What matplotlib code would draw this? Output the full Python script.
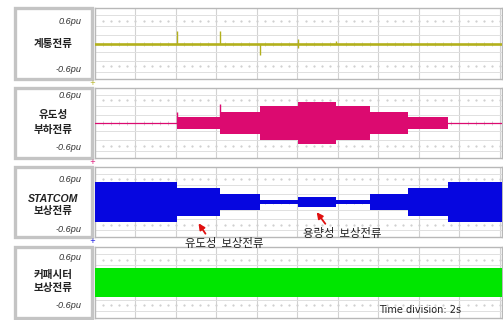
import matplotlib
matplotlib.use("Agg")
import matplotlib.pyplot as plt
from matplotlib.patches import Rectangle, FancyArrowPatch
import numpy as np

W, H = 503, 320

# ---- data (per-unit values, time in seconds) ----
seg_edges = [0.0, 4.05, 6.17, 8.15, 10.02, 11.9, 13.58, 15.46, 17.43, 20.1]
load_amp = [0.0, 0.15, 0.29, 0.45, 0.57, 0.45, 0.29, 0.15, 0.0]          # 유도성 부하전류 envelope
statcom_amp = [0.52, 0.365, 0.21, 0.055, 0.13, 0.055, 0.21, 0.365, 0.52]  # STATCOM 보상전류 envelope
cap_amp = [0.38]                                                            # 커패시터 보상전류 envelope
cap_edges = [0.0, 20.1]
grid_spike_t = [4.05, 6.17, 8.15, 10.02, 10.02, 11.9]
grid_spike_v = [0.33, 0.33, -0.31, 0.11, -0.11, 0.06]
load_spike_t = [4.05, 6.17]
load_spike_v = [0.30, 0.51]

panel_names = ["계통전류", "유도성\n부하전류", "STATCOM\n보상전류", "커패시터\n보상전류"]
scale_top, scale_bot = "0.6pu", "-0.6pu"
note_ind = "유도성  보상전류"
note_cap = "용량성  보상전류"
time_note = "Time division: 2s"

colors = ["#b3b01c", "#dc0a70", "#0606e0", "#00e600"]

# panel extents in pixels (top, bottom)
panels = [(8, 79), (88, 158), (167, 237), (247, 318)]
PX0, PX1 = 95, 502
YL = 0.93

fig = plt.figure(figsize=(W / 100, H / 100), dpi=100)
fig.patch.set_facecolor("white")

def fx(x):
    return x / W

def fy(y):
    return 1 - y / H

ko = ["Noto Sans CJK KR", "DejaVu Sans"]
lab_font = ["Liberation Sans", "Noto Sans CJK KR"]

axes = []
for i, (top, bot) in enumerate(panels):
    ax = fig.add_axes([fx(PX0), fy(bot), fx(PX1) - fx(PX0), (bot - top) / H])
    ax.set_xlim(0, 20.1)
    ax.set_ylim(-YL, YL)
    ax.set_xticks([])
    ax.set_yticks([])
    for s in ax.spines.values():
        s.set_color("#b8b8b8")
        s.set_linewidth(1.0)
    # grid
    for t in np.arange(2, 20.1, 2):
        ax.axvline(t, color="#d2d2d2", lw=0.8, zorder=0)
    for yv in (0.21, 0.45, 0.75):
        ax.axhline(yv, color="#e0e0e0", lw=0.7, zorder=0)
        ax.axhline(-yv, color="#e0e0e0", lw=0.7, zorder=0)
    dots = np.arange(0.4, 20.1, 0.4)
    for yv in (0.6, -0.6):
        ax.plot(dots, np.full_like(dots, yv), ls="none", marker="s",
                ms=0.6, color="#d0d0d0", zorder=0)
    ax.plot(dots, np.zeros_like(dots), ls="none", marker="|", ms=3,
            mew=0.6, color="#cccccc", zorder=0)
    axes.append(ax)

    # label box
    bx = Rectangle((fx(15), fy(bot)), fx(91.5) - fx(15), (bot - top) / H,
                   transform=fig.transFigure, facecolor="white",
                   edgecolor="#c4c4c4", lw=2.4)
    fig.add_artist(bx)

# traces
def envelope(ax, edges, amps, color):
    for a, b, amp in zip(edges[:-1], edges[1:], amps):
        if amp > 0:
            ax.fill_between([a, b], [-amp, -amp], [amp, amp], color=color,
                            lw=0, zorder=3)
        else:
            ax.plot([a, b], [0, 0], color=color, lw=0.9, zorder=3)

# 계통전류
axes[0].plot([0, 20.1], [0, 0], color=colors[0], lw=1.9, zorder=3)
axes[0].vlines(grid_spike_t, 0, grid_spike_v, color=colors[0], lw=1.0, zorder=3)
# 유도성 부하전류
envelope(axes[1], seg_edges, load_amp, colors[1])
axes[1].vlines(load_spike_t, 0, load_spike_v, color=colors[1], lw=1.0, zorder=3)
# STATCOM 보상전류
envelope(axes[2], seg_edges, statcom_amp, colors[2])
# 커패시터 보상전류
envelope(axes[3], cap_edges, cap_amp, colors[3])

# label texts
name_y = [[44], [115, 130], [199, 211], [275, 288]]
scale_y = [(21, 70), (96, 148), (180, 230), (257, 305)]
for i, name in enumerate(panel_names):
    lines = name.split("\n")
    for ln, yy in zip(lines, name_y[i]):
        fig.text(fx(53), fy(yy), ln, ha="center", va="center",
                 fontsize=7.6, fontweight="bold", style="italic",
                 family=lab_font, color="#222222")
    fig.text(fx(82), fy(scale_y[i][0]), scale_top, ha="right", va="center",
             fontsize=6.6, style="italic", family="Liberation Sans",
             color="#333333")
    fig.text(fx(82), fy(scale_y[i][1]), scale_bot, ha="right", va="center",
             fontsize=6.6, style="italic", family="Liberation Sans",
             color="#333333")
    # small trace marker under each trace area
    if i < 3:
        fig.text(fx(92.5), fy(panels[i][1] + 4), "+", ha="center",
                 va="center", fontsize=5, color=colors[i])

# annotations
arrow_kw = dict(arrowstyle="-|>", color="#e01010", lw=1.3, mutation_scale=9)
fig.add_artist(FancyArrowPatch(
    (fx(207), fy(236)), (fx(197), fy(221)), transform=fig.transFigure,
    **arrow_kw))
fig.add_artist(FancyArrowPatch(
    (fx(327), fy(226)), (fx(315), fy(210)), transform=fig.transFigure,
    **arrow_kw))
fig.text(fx(224), fy(244), note_ind, ha="center", va="center", fontsize=8.2,
         family=ko, color="#222222")
fig.text(fx(342), fy(233), note_cap, ha="center", va="center", fontsize=8.2,
         family=ko, color="#222222")
fig.text(fx(420), fy(310), time_note, ha="center", va="center", fontsize=7,
         family="DejaVu Sans", color="#222222")

fig.savefig("out.png", dpi=100, facecolor="white")
